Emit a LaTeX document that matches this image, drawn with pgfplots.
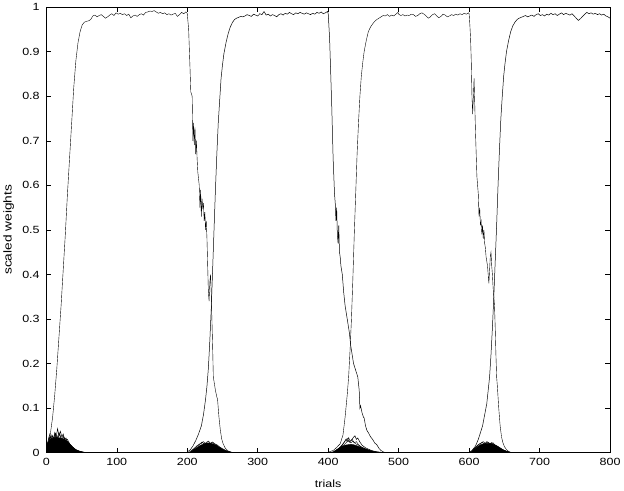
\documentclass[border=0pt]{standalone}
\usepackage{pgfplots}
\pgfplotsset{compat=1.18}
\usepackage{fontspec}
\setmainfont{Liberation Sans}[FakeStretch=1.2]

\begin{document}
\fontsize{10.5bp}{12bp}\selectfont
\begin{tikzpicture}
  \begin{axis}[
    width=568bp, height=449bp, scale only axis,
    xmin=0, xmax=800, ymin=0, ymax=1,
    xtick={0,100,...,800},
    ytick={0,0.1,...,1},
    yticklabels={0,0.1,0.2,0.3,0.4,0.5,0.6,0.7,0.8,0.9,1},
    tick align=inside,
    major tick length=5bp,
    tick style={black, line width=0.5bp},
    axis line style={line width=0.6bp},
    /pgf/number format/assume math mode=true,
    xlabel={trials},
    ylabel={scaled weights},
    tick label style={font=\fontsize{10.5bp}{12bp}\selectfont},
    label style={font=\fontsize{10.5bp}{12bp}\selectfont},
    ylabel style={font=\fontsize{11.5bp}{13bp}\selectfont, yshift=1bp},
    xticklabel style={yshift=-2bp},
    yticklabel style={xshift=-3bp},
    xlabel style={yshift=-7bp},
    cycle list={{black, line width=0.5bp}},
    no marks,
    clip=true,
  ]
% main weight that wins in block 1
\addplot table {
0 0.008
3 0.02
6 0.045
9 0.08
12 0.13
15 0.19
18 0.26
21 0.33
24 0.41
27 0.49
30 0.58
33 0.66
36 0.74
39 0.82
42 0.88
45 0.92
48 0.945
51 0.96
54 0.966
57 0.968
60 0.969
63 0.972
66 0.980
69 0.982
72 0.978
75 0.981
78 0.983
81 0.979
84 0.975
87 0.978
90 0.982
93 0.985
96 0.981
99 0.987
102 0.984
105 0.986
108 0.983
111 0.985
114 0.981
117 0.984
120 0.976
123 0.980
126 0.982
129 0.979
132 0.983
135 0.985
138 0.982
141 0.988
144 0.989
147 0.991
150 0.990
153 0.992
156 0.989
159 0.986
162 0.988
165 0.985
168 0.987
171 0.983
174 0.985
177 0.982
180 0.984
183 0.986
186 0.979
189 0.983
192 0.988
195 0.985
198 0.989
200 0.986
202 0.95
204 0.86
205 0.81
207 0.80
208 0.70
209 0.74
210 0.69
211 0.73
212 0.67
213 0.70
214 0.66
215 0.63
217 0.60
218 0.55
219 0.59
220 0.53
221 0.57
222 0.55
223 0.56
224 0.52
225 0.54
226 0.50
227 0.52
228 0.48
229 0.42
230 0.36
231 0.34
232 0.38
233 0.40
234 0.36
235 0.30
236 0.24
237 0.17
240 0.14
242 0.125
243 0.12
245 0.08
247 0.05
249 0.03
251 0.02
254 0.01
258 0.004
265 0
};
% block 2
\addplot table {
200 0.002
204 0.006
208 0.015
212 0.027
216 0.042
220 0.06
223 0.085
226 0.12
228 0.15
230 0.19
232 0.25
234 0.32
236 0.41
238 0.50
240 0.59
242 0.67
244 0.74
246 0.79
248 0.84
250 0.87
252 0.895
255 0.92
258 0.94
261 0.955
264 0.965
267 0.972
270 0.975
273 0.977
276 0.979
279 0.978
282 0.980
285 0.983
288 0.981
291 0.979
294 0.984
297 0.982
300 0.980
303 0.985
306 0.983
309 0.990
312 0.982
315 0.984
318 0.980
321 0.983
324 0.981
327 0.978
330 0.983
333 0.985
336 0.982
339 0.986
342 0.984
345 0.988
348 0.985
351 0.983
354 0.987
357 0.985
360 0.988
363 0.986
366 0.984
369 0.987
372 0.985
375 0.983
378 0.986
381 0.984
384 0.988
387 0.986
390 0.989
393 0.985
396 0.987
399 0.990
400 0.986
402 0.93
403 0.88
404 0.83
405 0.78
406 0.72
407 0.66
408 0.62
409 0.58
410 0.56
411 0.52
412 0.55
413 0.49
414 0.47
415 0.51
416 0.45
417 0.44
418 0.42
420 0.40
422 0.36
424 0.33
426 0.31
428 0.29
430 0.27
432 0.24
434 0.22
436 0.20
438 0.19
440 0.18
442 0.17
444 0.14
445 0.10
446 0.105
448 0.09
450 0.08
451 0.078
453 0.06
455 0.05
457 0.045
460 0.036
463 0.03
466 0.022
469 0.018
472 0.01
475 0.005
478 0.002
482 0
};
% block 3
\addplot table {
400 0.001
405 0.004
408 0.006
412 0.012
417 0.02
421 0.04
424 0.08
427 0.13
429 0.17
431 0.23
433 0.30
435 0.39
437 0.49
439 0.58
441 0.67
443 0.74
445 0.80
447 0.845
449 0.875
451 0.90
454 0.925
457 0.945
460 0.955
463 0.962
466 0.968
469 0.972
472 0.975
475 0.978
478 0.981
481 0.980
484 0.983
487 0.979
490 0.982
493 0.980
496 0.984
499 0.988
500 0.984
503 0.981
506 0.983
509 0.980
512 0.982
515 0.981
518 0.984
521 0.983
524 0.979
527 0.981
530 0.985
533 0.987
536 0.984
539 0.980
542 0.975
545 0.978
548 0.983
551 0.985
554 0.980
557 0.976
560 0.979
563 0.984
566 0.982
569 0.978
572 0.980
575 0.983
578 0.981
581 0.984
584 0.982
587 0.985
590 0.983
593 0.986
596 0.984
599 0.987
600 0.985
601 0.96
602 0.93
603 0.88
604 0.80
605 0.76
606 0.80
607 0.84
608 0.78
609 0.72
610 0.67
611 0.62
612 0.60
613 0.58
614 0.53
615 0.55
616 0.51
617 0.52
618 0.49
619 0.51
620 0.48
621 0.50
622 0.47
623 0.46
624 0.44
625 0.43
626 0.42
627 0.40
628 0.38
629 0.41
630 0.44
631 0.45
632 0.42
633 0.40
634 0.37
635 0.35
636 0.33
637 0.28
638 0.22
639 0.17
640 0.15
642 0.10
644 0.06
646 0.035
648 0.022
650 0.014
653 0.007
656 0.003
660 0
};
% block 4
\addplot table {
600 0.001
604 0.005
609 0.015
613 0.03
616 0.045
619 0.06
622 0.085
625 0.11
627 0.14
629 0.17
631 0.22
633 0.28
635 0.35
637 0.43
639 0.51
641 0.60
643 0.68
645 0.75
647 0.80
649 0.845
651 0.875
653 0.90
656 0.925
659 0.945
662 0.958
665 0.966
668 0.972
671 0.975
674 0.977
677 0.979
680 0.981
683 0.978
686 0.980
689 0.982
692 0.979
695 0.983
698 0.985
701 0.981
704 0.983
707 0.980
710 0.984
713 0.982
716 0.986
719 0.983
722 0.985
725 0.981
728 0.984
731 0.987
734 0.983
737 0.986
740 0.984
743 0.982
746 0.985
749 0.980
752 0.975
755 0.970
758 0.974
761 0.979
764 0.984
767 0.988
770 0.985
773 0.987
776 0.984
779 0.986
782 0.983
785 0.985
788 0.982
791 0.984
794 0.980
797 0.978
800 0.975
};
% the many small weights: dense bundles near zero
\addplot[fill=black, draw=black] table {
0 0
1 0.02
3 0.025
5 0.03
8 0.032
11 0.034
14 0.035
17 0.034
20 0.033
23 0.032
26 0.03
29 0.027
32 0.022
35 0.017
38 0.012
41 0.008
44 0.005
48 0.003
52 0.0015
56 0.0008
60 0
} \closedcycle;
\addplot table {
0 0.005
2 0.02
4 0.035
6 0.028
8 0.04
10 0.03
12 0.045
14 0.035
16 0.054
18 0.038
20 0.048
22 0.036
24 0.042
26 0.03
28 0.033
30 0.025
33 0.02
36 0.013
40 0.008
45 0.004
50 0.002
55 0
};
\addplot table {
0 0.01
3 0.03
5 0.042
7 0.03
9 0.038
11 0.028
13 0.044
15 0.032
18 0.045
21 0.03
24 0.038
27 0.028
30 0.03
34 0.018
38 0.012
42 0.007
48 0.003
55 0
};
\addplot table {
0 0.003
4 0.025
6 0.036
9 0.026
12 0.04
15 0.03
19 0.042
22 0.028
25 0.035
28 0.024
32 0.02
36 0.014
42 0.006
50 0.002
58 0
};
\addplot[fill=black, draw=black] table {
200 0
205 0.003
210 0.008
214 0.012
218 0.016
222 0.019
226 0.021
230 0.022
234 0.021
238 0.019
242 0.016
246 0.012
250 0.008
254 0.005
258 0.003
262 0.001
268 0
} \closedcycle;
\addplot table {
205 0.004
210 0.01
214 0.016
218 0.02
221 0.024
224 0.019
227 0.023
230 0.026
233 0.021
236 0.024
239 0.02
242 0.018
246 0.013
250 0.009
255 0.005
260 0.002
266 0
};
\addplot table {
208 0.006
213 0.013
217 0.018
220 0.021
223 0.025
226 0.02
229 0.022
232 0.019
235 0.023
238 0.02
241 0.017
245 0.012
250 0.007
256 0.003
262 0
};
\addplot[fill=black, draw=black] table {
403 0
408 0.003
412 0.007
416 0.011
420 0.015
424 0.017
428 0.018
432 0.019
436 0.018
440 0.016
444 0.014
448 0.011
452 0.009
456 0.007
460 0.005
465 0.003
470 0.002
476 0.001
480 0
} \closedcycle;
\addplot table {
410 0.004
415 0.01
419 0.016
422 0.022
425 0.03
427 0.025
429 0.034
431 0.026
434 0.03
437 0.022
440 0.025
443 0.018
447 0.013
452 0.009
458 0.005
465 0.002
472 0
};
\addplot table {
412 0.005
417 0.012
421 0.02
424 0.026
427 0.032
430 0.024
433 0.028
436 0.035
438 0.038
440 0.03
442 0.033
445 0.024
448 0.017
453 0.011
460 0.006
468 0.002
476 0
};
\addplot table {
415 0.008
420 0.015
424 0.02
428 0.027
432 0.022
435 0.026
439 0.02
443 0.017
448 0.012
455 0.007
462 0.003
470 0
};
\addplot[fill=black, draw=black] table {
600 0
604 0.004
608 0.009
612 0.014
616 0.018
620 0.02
624 0.021
628 0.021
632 0.02
636 0.018
640 0.015
644 0.011
648 0.007
652 0.004
656 0.002
662 0
} \closedcycle;
\addplot table {
604 0.005
609 0.012
613 0.018
617 0.022
620 0.025
623 0.021
626 0.024
629 0.02
632 0.023
635 0.019
638 0.016
642 0.011
647 0.006
653 0.003
660 0
};
\addplot table {
606 0.007
611 0.015
615 0.02
619 0.023
622 0.019
625 0.025
628 0.022
631 0.02
634 0.022
637 0.017
641 0.013
646 0.008
652 0.004
658 0
};
  \end{axis}
\end{tikzpicture}
\end{document}
